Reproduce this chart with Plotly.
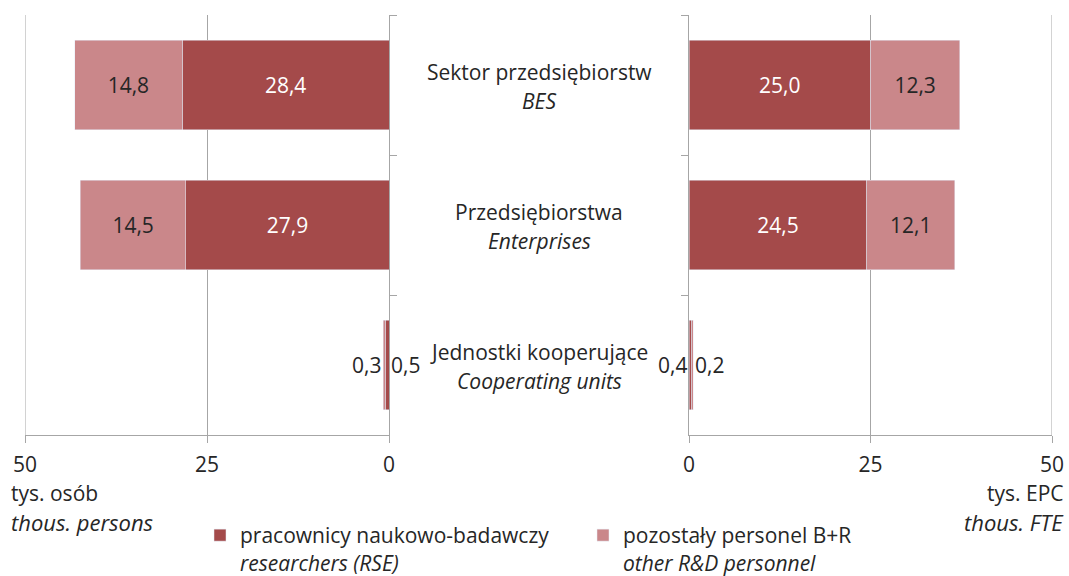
import plotly.graph_objects as go

# ---- data ----
categories = ["BES", "Enterprises", "Cooperating"]
cat_pl = ["Sektor przedsiębiorstw", "Przedsiębiorstwa", "Jednostki kooperujące"]
cat_en = ["BES", "Enterprises", "Cooperating units"]

persons_researchers = [28.4, 27.9, 0.5]
persons_other = [14.8, 14.5, 0.3]
fte_researchers = [25.0, 24.5, 0.4]
fte_other = [12.3, 12.1, 0.2]

tick_vals = [0, 25, 50]
axis_max = 50
series_names = ["pracownicy naukowo-badawczy<br><i>researchers (RSE)</i>",
                "pozostały personel B+R<br><i>other R&D personnel</i>"]

DARK = "#A44A4A"
LIGHT = "#CA878A"
TXT = "#262626"
GRID = "#A6A6A6"
FONT = "Open Sans"
FS = 21

W, H = 1069, 576


def fmt(v):
    return f"{v:.1f}".replace(".", ",")


def labels(vals):
    # small values are labelled outside via annotations
    return [fmt(v) if v >= 1 else "" for v in vals]


fig = go.Figure()

# left panel (persons)
fig.add_trace(go.Bar(y=categories, x=persons_researchers, orientation="h",
                     xaxis="x", yaxis="y", marker_color=DARK, width=0.64,
                     name=series_names[0], legendgroup="r", showlegend=True,
                     text=labels(persons_researchers), textposition="inside",
                     insidetextanchor="middle",
                     textfont=dict(color="white", size=FS, family=FONT)))
fig.add_trace(go.Bar(y=categories, x=persons_other, orientation="h",
                     xaxis="x", yaxis="y", marker_color=LIGHT, width=0.64,
                     name=series_names[1], legendgroup="o", showlegend=True,
                     text=labels(persons_other), textposition="inside",
                     insidetextanchor="middle",
                     textfont=dict(color=TXT, size=FS, family=FONT)))
# right panel (FTE)
fig.add_trace(go.Bar(y=categories, x=fte_researchers, orientation="h",
                     xaxis="x2", yaxis="y2", marker_color=DARK, width=0.64,
                     name=series_names[0], legendgroup="r", showlegend=False,
                     text=labels(fte_researchers), textposition="inside",
                     insidetextanchor="middle",
                     textfont=dict(color="white", size=FS, family=FONT)))
fig.add_trace(go.Bar(y=categories, x=fte_other, orientation="h",
                     xaxis="x2", yaxis="y2", marker_color=LIGHT, width=0.64,
                     name=series_names[1], legendgroup="o", showlegend=False,
                     text=labels(fte_other), textposition="inside",
                     insidetextanchor="middle",
                     textfont=dict(color=TXT, size=FS, family=FONT)))

ydom = [1 - 435 / H, 1 - 15 / H]
xaxis_common = dict(tickvals=tick_vals, showgrid=True, gridcolor=GRID,
                    gridwidth=1, showline=True, linecolor=GRID, ticks="outside",
                    ticklen=7, tickcolor=GRID, zeroline=False, automargin=False,
                    tickfont=dict(size=FS, color=TXT, family=FONT),
                    ticklabelstandoff=4)
yaxis_common = dict(type="category", categoryorder="array", categoryarray=categories,
                    range=[2.5, -0.5], tickson="boundaries", ticks="outside",
                    ticklen=7, tickcolor=GRID, showline=True, linecolor=GRID,
                    showticklabels=False, showgrid=False, domain=ydom, automargin=False)

fig.update_layout(
    width=W, height=H,
    margin=dict(l=0, r=0, t=0, b=0, autoexpand=False),
    paper_bgcolor="white", plot_bgcolor="white",
    barmode="stack", separators=", ",
    font=dict(family=FONT, size=FS, color=TXT),
    xaxis=dict(xaxis_common, domain=[25 / W, 389 / W], range=[axis_max, 0], anchor="y"),
    yaxis=dict(yaxis_common, side="right", anchor="x"),
    xaxis2=dict(xaxis_common, domain=[689 / W, 1052 / W], range=[0, axis_max], anchor="y2"),
    yaxis2=dict(yaxis_common, side="left", anchor="x2"),
    legend=dict(orientation="h", x=200 / W, y=1 - 515 / H, xanchor="left", yanchor="top",
                font=dict(size=FS, color=TXT, family=FONT), entrywidth=338,
                valign="top", traceorder="normal", bgcolor="rgba(0,0,0,0)",
                tracegroupgap=0),
    showlegend=True,
)

# gridlines at the outer ends of both value axes (plotly drops edge gridlines)
fig.add_shape(type="line", xref="x", yref="y domain", x0=axis_max, x1=axis_max, y0=0, y1=1,
              line=dict(color=GRID, width=1), layer="below")
fig.add_shape(type="line", xref="x2", yref="y2 domain", x0=axis_max, x1=axis_max, y0=0, y1=1,
              line=dict(color=GRID, width=1), layer="below")

ann = []
# category labels in the middle
for i, c in enumerate(categories):
    ann.append(dict(x=539 / W, xref="paper", y=c, yref="y", text=cat_pl[i],
                    showarrow=False, yshift=13, xanchor="center", yanchor="middle",
                    font=dict(size=FS, color=TXT, family=FONT)))
    ann.append(dict(x=539 / W, xref="paper", y=c, yref="y", text=f"<i>{cat_en[i]}</i>",
                    showarrow=False, yshift=-16, xanchor="center", yanchor="middle",
                    font=dict(size=FS, color=TXT, family=FONT)))

# small-value labels (cooperating units)
k = 2
ann.append(dict(x=persons_researchers[k] + persons_other[k], xref="x", y=categories[k], yref="y",
                text=fmt(persons_other[k]), showarrow=False, xanchor="right", xshift=0,
                font=dict(size=FS, color=TXT, family=FONT)))
ann.append(dict(x=0, xref="x", y=categories[k], yref="y",
                text=fmt(persons_researchers[k]), showarrow=False, xanchor="left", xshift=0,
                font=dict(size=FS, color=TXT, family=FONT)))
ann.append(dict(x=0, xref="x2", y=categories[k], yref="y2",
                text=fmt(fte_researchers[k]), showarrow=False, xanchor="right", xshift=0,
                font=dict(size=FS, color=TXT, family=FONT)))
ann.append(dict(x=fte_researchers[k] + fte_other[k], xref="x2", y=categories[k], yref="y2",
                text=fmt(fte_other[k]), showarrow=False, xanchor="left", xshift=0,
                font=dict(size=FS, color=TXT, family=FONT)))

# unit labels
ann.append(dict(x=9 / W, xref="paper", y=1 - 493 / H, yref="paper", text="tys. osób",
                showarrow=False, xanchor="left", yanchor="middle",
                font=dict(size=FS, color=TXT, family=FONT)))
ann.append(dict(x=9 / W, xref="paper", y=1 - 522 / H, yref="paper", text="<i>thous. persons</i>",
                showarrow=False, xanchor="left", yanchor="middle",
                font=dict(size=FS + 1, color=TXT, family=FONT)))
ann.append(dict(x=1066 / W, xref="paper", y=1 - 493 / H, yref="paper", text="tys. EPC",
                showarrow=False, xanchor="right", yanchor="middle",
                font=dict(size=FS, color=TXT, family=FONT)))
ann.append(dict(x=1066 / W, xref="paper", y=1 - 522 / H, yref="paper", text="<i>thous. FTE</i>",
                showarrow=False, xanchor="right", yanchor="middle",
                font=dict(size=FS + 1, color=TXT, family=FONT)))

fig.update_layout(annotations=ann)

fig.write_html("out.html", config={"displayModeBar": False},
               post_script="document.body.style.margin='0';document.body.style.overflow='hidden';")
